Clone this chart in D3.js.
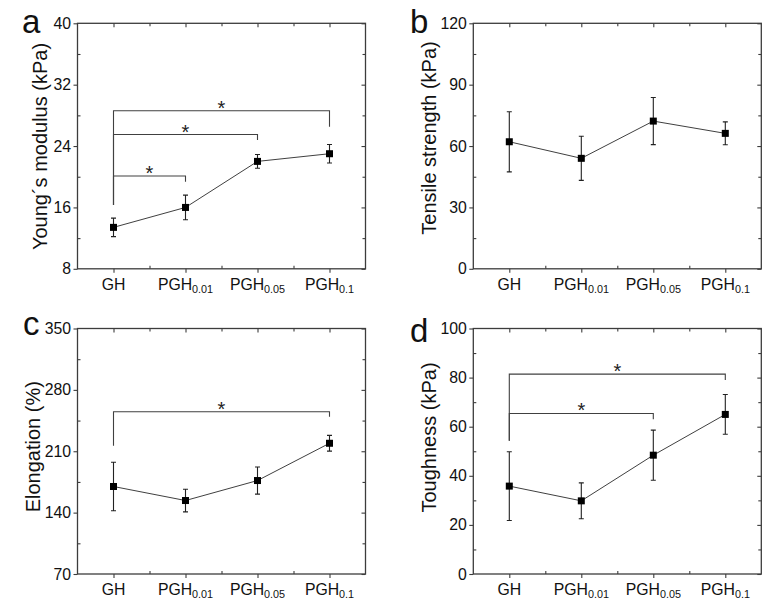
<!DOCTYPE html>
<html>
<head>
<meta charset="utf-8">
<script src="https://cdn.jsdelivr.net/npm/d3@7/dist/d3.min.js"></script>
<style>
  html, body { margin: 0; padding: 0; background: #fff; }
  svg { display: block; font-family: "Liberation Sans", Arial, sans-serif; }
</style>
</head>
<body>
<svg id="chart" width="774" height="604"></svg>
<script>
// ---- Data ----
const catBase = ["GH", "PGH", "PGH", "PGH"];
const catSub = ["", "0.01", "0.05", "0.1"];

const youngMean = [13.4, 16.0, 22.0, 23.0];
const youngErr = [1.2, 1.6, 0.9, 1.2];
const youngTicks = [8, 16, 24, 32, 40];
const youngMinor = [12, 20, 28, 36];
// [from, to, bracket level, right leg end]
const youngSig = [[0, 1, 20.1, 19.35], [0, 2, 25.5, 24.8], [0, 3, 28.6, 26.5]];
const youngSigBase = 16.3;

const tensileMean = [62.1, 54.0, 72.2, 66.2];
const tensileErr = [14.7, 10.8, 11.5, 5.6];
const tensileTicks = [0, 30, 60, 90, 120];
const tensileMinor = [15, 45, 75, 105];
const tensileSig = [];
const tensileSigBase = 0;

const elongMean = [169.8, 153.8, 176.6, 219.1];
const elongErr = [27.7, 12.9, 15.5, 9.0];
const elongTicks = [70, 140, 210, 280, 350];
const elongMinor = [105, 175, 245, 315];
const elongSig = [[0, 3, 255.1, 249.4]];
const elongSigBase = 216.4;

const toughMean = [35.8, 29.8, 48.4, 65.0];
const toughErr = [14.0, 7.3, 10.2, 8.1];
const toughTicks = [0, 20, 40, 60, 80, 100];
const toughMinor = [10, 30, 50, 70, 90];
const toughSig = [[0, 2, 65.4, 63.0], [0, 3, 81.4, 79.0]];
const toughSigBase = 54.3;

// ---- Layout ----
const svg = d3.select("#chart");
const PW = 288, PH = 245.5;
const axisColor = "#3c3c3c";
const fontTick = 15.8;

const panels = [
  { letter: "a", left: 77.5, top: 23.3, title: "Young\u00b4s modulus (kPa)", mean: youngMean, err: youngErr,
    ticks: youngTicks, minor: youngMinor, sig: youngSig, sigBase: youngSigBase, titleOff: 30.5, titleCy: 146.5, lx: 22, ly: 33 },
  { letter: "b", left: 473.3, top: 23.3, title: "Tensile strength (kPa)", mean: tensileMean, err: tensileErr,
    ticks: tensileTicks, minor: tensileMinor, sig: tensileSig, sigBase: tensileSigBase, titleOff: 37.5, titleCy: 138, lx: 410, ly: 33 },
  { letter: "c", left: 77.5, top: 328.5, title: "Elongation (%)", mean: elongMean, err: elongErr,
    ticks: elongTicks, minor: elongMinor, sig: elongSig, sigBase: elongSigBase, titleOff: 38, titleCy: 446.7, lx: 23, ly: 335 },
  { letter: "d", left: 473.3, top: 328.5, title: "Toughness (kPa)", mean: toughMean, err: toughErr,
    ticks: toughTicks, minor: toughMinor, sig: toughSig, sigBase: toughSigBase, titleOff: 37.5, titleCy: 437.5, lx: 410, ly: 342 }
];

function styleAxis(g) {
  g.select(".domain").remove();
  g.selectAll("line").attr("stroke", axisColor).attr("stroke-width", 1.1);
  g.selectAll("text").attr("font-size", fontTick).attr("fill", "#111")
    .attr("font-family", '"Liberation Sans", Arial, sans-serif');
}

panels.forEach(p => {
  const x = d3.scaleLinear().domain([-0.5, 3.5]).range([p.left, p.left + PW]);
  const y = d3.scaleLinear().domain([p.ticks[0], p.ticks[p.ticks.length - 1]]).range([p.top + PH, p.top]);
  const bottom = p.top + PH, right = p.left + PW;
  const g = svg.append("g");
  const idx = [0, 1, 2, 3];
  const minorX = [0.5, 1.5, 2.5];

  // left axis: major outward with labels, minor inward
  g.append("g").attr("transform", `translate(${p.left},0)`)
    .call(d3.axisLeft(y).tickValues(p.ticks).tickSize(4).tickPadding(2.5).tickFormat(d3.format("d")))
    .call(styleAxis);
  g.append("g").attr("transform", `translate(${p.left},0)`)
    .call(d3.axisRight(y).tickValues(p.minor).tickSize(3).tickFormat(""))
    .call(styleAxis);
  // right axis: inward ticks
  g.append("g").attr("transform", `translate(${right},0)`)
    .call(d3.axisLeft(y).tickValues(p.ticks).tickSize(4).tickFormat(""))
    .call(styleAxis);
  g.append("g").attr("transform", `translate(${right},0)`)
    .call(d3.axisLeft(y).tickValues(p.minor).tickSize(3).tickFormat(""))
    .call(styleAxis);
  // bottom axis: major outward, minor inward
  g.append("g").attr("transform", `translate(0,${bottom})`)
    .call(d3.axisBottom(x).tickValues(idx).tickSize(4).tickFormat(""))
    .call(styleAxis);
  g.append("g").attr("transform", `translate(0,${bottom})`)
    .call(d3.axisTop(x).tickValues(minorX).tickSize(3).tickFormat(""))
    .call(styleAxis);
  // top axis: inward
  g.append("g").attr("transform", `translate(0,${p.top})`)
    .call(d3.axisBottom(x).tickValues(idx).tickSize(4).tickFormat(""))
    .call(styleAxis);
  g.append("g").attr("transform", `translate(0,${p.top})`)
    .call(d3.axisBottom(x).tickValues(minorX).tickSize(3).tickFormat(""))
    .call(styleAxis);

  // frame
  g.append("rect").attr("x", p.left).attr("y", p.top).attr("width", PW).attr("height", PH)
    .attr("fill", "none").attr("stroke", axisColor).attr("stroke-width", 1.3);

  // category labels
  idx.forEach(i => {
    const t = g.append("text").attr("x", x(i)).attr("y", bottom + 21.3)
      .attr("text-anchor", "middle").attr("font-size", fontTick).attr("fill", "#111");
    t.append("tspan").text(catBase[i]);
    if (catSub[i]) t.append("tspan").attr("font-size", 10.8).attr("dy", 2.5).text(catSub[i]);
  });

  // y title
  const tx = p.left - p.titleOff;
  g.append("text").attr("transform", `translate(${tx},${p.titleCy}) rotate(-90)`)
    .attr("text-anchor", "middle").attr("font-size", 20).attr("fill", "#111").text(p.title);

  // panel letter
  g.append("text").attr("x", p.lx).attr("y", p.ly).attr("font-size", 33).attr("fill", "#111").text(p.letter);

  // significance brackets
  p.sig.forEach(s => {
    const [a, b, lvl, rEnd] = s;
    g.append("path")
      .attr("d", `M${x(a)},${y(p.sigBase)}V${y(lvl)}H${x(b)}V${y(rEnd)}`)
      .attr("fill", "none").attr("stroke", "#404040").attr("stroke-width", 1.1);
    g.append("text").attr("x", x((a + b) / 2)).attr("y", y(lvl) + 4)
      .attr("text-anchor", "middle").attr("font-size", 20).attr("fill", "#222").text("*");
  });

  // connecting line
  const line = d3.line().x((d, i) => x(i)).y(d => y(d));
  g.append("path").datum(p.mean).attr("d", line)
    .attr("fill", "none").attr("stroke", "#404040").attr("stroke-width", 1);

  // error bars
  const cap = 2.5;
  idx.forEach(i => {
    const hi = y(p.mean[i] + p.err[i]), lo = y(p.mean[i] - p.err[i]), cx = x(i);
    g.append("path")
      .attr("d", `M${cx},${hi}V${lo}M${cx - cap},${hi}H${cx + cap}M${cx - cap},${lo}H${cx + cap}`)
      .attr("fill", "none").attr("stroke", "#222").attr("stroke-width", 1.1);
  });

  // markers
  const ms = 7;
  g.selectAll(null).data(p.mean).enter().append("rect")
    .attr("x", (d, i) => x(i) - ms / 2).attr("y", d => y(d) - ms / 2)
    .attr("width", ms).attr("height", ms).attr("fill", "#000");
});
</script>
</body>
</html>
